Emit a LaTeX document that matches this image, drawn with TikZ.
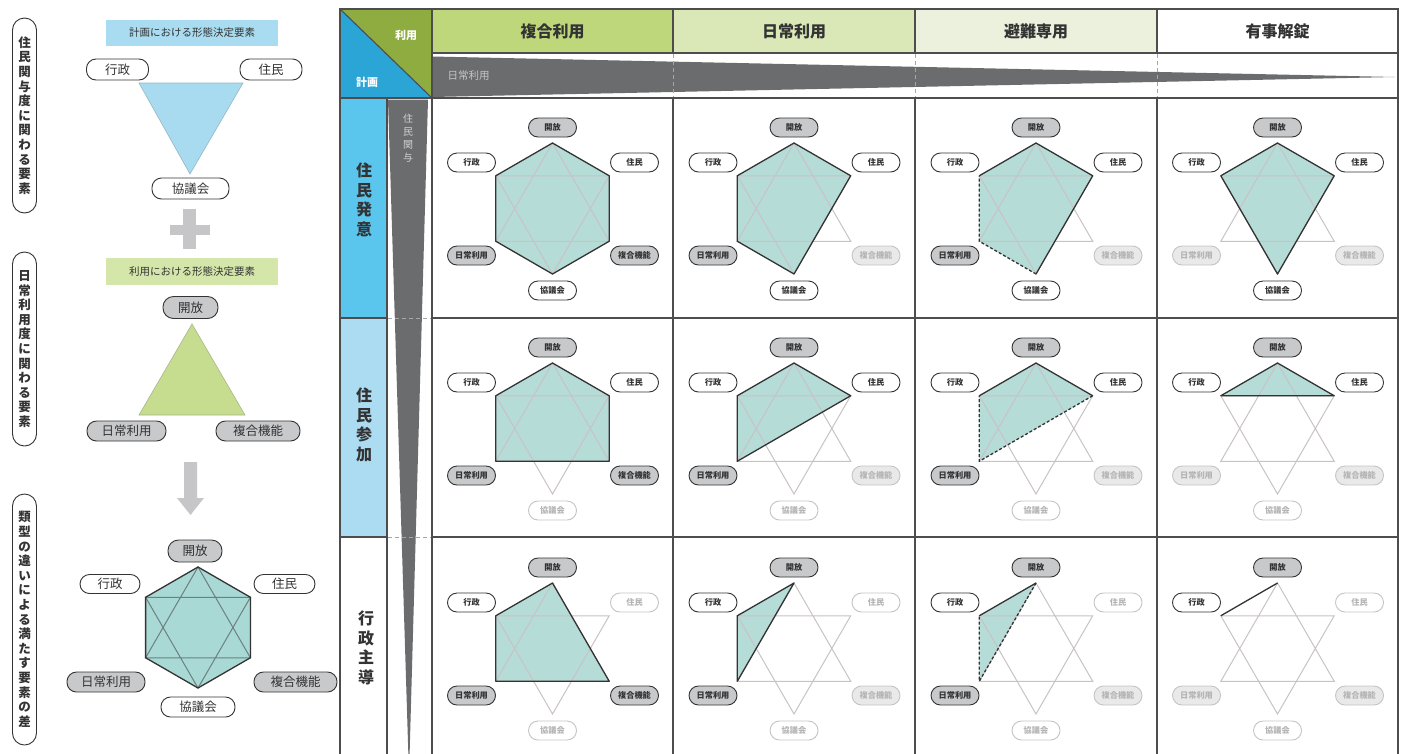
\documentclass[tikz,border=0pt]{standalone}
\usepackage{fontspec}
\setmainfont{Noto Sans CJK JP}
\definecolor{lineC}{HTML}{4D4D4D}
\definecolor{olive}{HTML}{8EAC40}
\definecolor{cblue}{HTML}{2BA4D6}
\definecolor{hA}{HTML}{BED77B}
\definecolor{hB}{HTML}{DAE8B7}
\definecolor{hC}{HTML}{EBF1DD}
\definecolor{rA}{HTML}{5AC6EE}
\definecolor{rB}{HTML}{ACDCF1}
\definecolor{wedgeC}{HTML}{6B6C6E}
\definecolor{tealF}{HTML}{B6DCD7}
\definecolor{tealL}{HTML}{A9D9D4}
\definecolor{pillG}{HTML}{C8C9CB}
\definecolor{pillD}{HTML}{333333}
\definecolor{textD}{HTML}{333333}
\definecolor{inD}{HTML}{C4C4C4}
\definecolor{inF}{HTML}{E9E9EA}
\definecolor{inT}{HTML}{B4B4B4}
\definecolor{starC}{HTML}{C9C2C6}
\definecolor{boxB}{HTML}{A9DCF0}
\definecolor{boxG}{HTML}{D4E6A9}
\definecolor{triB}{HTML}{A8DBEF}
\definecolor{triG}{HTML}{C6DC8F}
\definecolor{plusC}{HTML}{C6C6C8}

\newcommand{\hexpts}[3]{%
  \coordinate (#1C) at (#2,#3);
  \coordinate (#1T) at ([shift={(0,-65.5)}]#1C);
  \coordinate (#1B) at ([shift={(0,65.5)}]#1C);
  \coordinate (#1UL) at ([shift={(-56.7,-32.75)}]#1C);
  \coordinate (#1UR) at ([shift={(56.7,-32.75)}]#1C);
  \coordinate (#1LL) at ([shift={(-56.7,32.75)}]#1C);
  \coordinate (#1LR) at ([shift={(56.7,32.75)}]#1C);
}
\newcommand{\hexstar}[1]{%
  \draw[starline] (#1T) -- (#1LL) -- (#1LR) -- cycle (#1B) -- (#1UL) -- (#1UR) -- cycle;
}
\newcommand{\hexlabels}[7]{%
  \node[#2] (#1-k) at ([shift={(0,-81)}]#1C) {開放};
  \node[#3] (#1-g) at ([shift={(-81,-46)}]#1C) {行政};
  \node[#4] (#1-j) at ([shift={(82,-46)}]#1C) {住民};
  \node[#5] (#1-n) at ([shift={(-81,47)}]#1C) {日常利用};
  \node[#6] (#1-f) at ([shift={(82,47)}]#1C) {複合機能};
  \node[#7] (#1-b) at ([shift={(0,82)}]#1C) {協議会};
}

\begin{document}
\begin{tikzpicture}[x=1pt,y=-1pt,
  grid/.style={draw=lineC,line width=1.1pt},
  dashline/.style={draw=gray!70,line width=0.9pt,dash pattern=on 4pt off 3pt},
  starline/.style={draw=starC,line width=1pt},
  hexfill/.style={fill=tealF},
  outl/.style={draw=pillD,line width=1.3pt,line join=round},
  outd/.style={outl,dash pattern=on 3pt off 2pt},
  cpill/.style={draw, rounded corners=9.5pt, minimum width=48pt, minimum height=19pt, inner sep=0pt, font=\fontsize{8.2}{9}\selectfont\bfseries, line width=0.9pt},
  pw/.style={cpill, draw=pillD, fill=white, text=textD},
  pg/.style={cpill, draw=pillD, fill=pillG, text=textD},
  pwi/.style={cpill, draw=inD, fill=white, text=inT},
  pgi/.style={cpill, draw=inD, fill=inF, text=inT},
  lp/.style={draw=pillD, line width=0.9pt, rounded corners=9.5pt, inner sep=0pt, font=\fontsize{12.5}{14}\selectfont, text=textD},
  lpw/.style={lp, fill=white},
  lpg/.style={lp, fill=pillG},
  vpill/.style={draw=pillD, line width=0.9pt, rounded corners=12pt, minimum width=24pt, inner sep=0pt, align=center, font=\fontsize{12.5}{14.6}\selectfont\bfseries, text=textD},
  hdr/.style={font=\fontsize{16}{18}\selectfont\bfseries, text=textD},
  rowlab/.style={align=center, font=\fontsize{16}{19.5}\selectfont\bfseries, text=textD},
  tbox/.style={minimum width=172pt, inner sep=0pt, font=\fontsize{10.5}{12}\selectfont, text=textD}
]
\clip (0,0) rectangle (1415,753);
\fill[white] (0,0) rectangle (1415,753);

% ---------------- left panel ----------------
\node[vpill, minimum height=195pt] (v1) at (24.5,115.5) {住\\民\\関\\与\\度\\に\\関\\わ\\る\\要\\素};
\node[vpill, minimum height=194pt] (v2) at (24.5,349) {日\\常\\利\\用\\度\\に\\関\\わ\\る\\要\\素};
\node[vpill, minimum height=251pt] (v3) at (24.5,619.5) {類\\型\\の\\違\\い\\に\\よ\\る\\満\\た\\す\\要\\素\\の\\差};

\node[tbox, fill=boxB, minimum height=26pt] (bx1) at (192,32.5) {計画における形態決定要素};
\fill[triB, draw=triB!60!gray, line width=0.6pt] (139,83) -- (243,83) -- (190,174) -- cycle;
\node[lpw, minimum width=62pt, minimum height=21pt] (l1g) at (117.5,69.5) {行政};
\node[lpw, minimum width=62pt, minimum height=21pt] (l1j) at (271,69.5) {住民};
\node[lpw, minimum width=77pt, minimum height=21pt] (l1b) at (190.5,188.5) {協議会};

\fill[plusC] (183,209) rectangle (196,249);
\fill[plusC] (170,225) rectangle (210,235);

\node[tbox, fill=boxG, minimum height=27pt] (bx2) at (192,271.5) {利用における形態決定要素};
\fill[triG, draw=triG!60!gray, line width=0.6pt] (192,324) -- (139,415) -- (245,415) -- cycle;
\node[lpg, minimum width=55pt, minimum height=22pt, rounded corners=10.5pt] (l2k) at (190.5,307.5) {開放};
\node[lpg, minimum width=79pt, minimum height=20pt] (l2n) at (126.5,431) {日常利用};
\node[lpg, minimum width=84pt, minimum height=20pt] (l2f) at (258,431) {複合機能};

\fill[plusC] (184,462) -- (197,462) -- (197,498) -- (204,498) -- (190.5,515) -- (177,498) -- (184,498) -- cycle;

\coordinate (hC) at (198,627.5);
\coordinate (hT) at (198,567);
\coordinate (hB) at (198,688);
\coordinate (hUL) at (145.6,597.25);
\coordinate (hUR) at (250.4,597.25);
\coordinate (hLL) at (145.6,657.75);
\coordinate (hLR) at (250.4,657.75);
\fill[tealL] (hT) -- (hUR) -- (hLR) -- (hB) -- (hLL) -- (hUL) -- cycle;
\draw[draw=gray!85!teal, line width=1pt] (hT) -- (hLL) -- (hLR) -- cycle (hB) -- (hUL) -- (hUR) -- cycle;
\draw[outl] (hT) -- (hUR) -- (hLR) -- (hB) -- (hLL) -- (hUL) -- cycle;
\node[lpg, minimum width=54pt, minimum height=22pt, rounded corners=10.5pt] (l3k) at (195,551) {開放};
\node[lpw, minimum width=60pt, minimum height=19pt] (l3g) at (110,584) {行政};
\node[lpw, minimum width=61pt, minimum height=19pt] (l3j) at (284.5,584) {住民};
\node[lpg, minimum width=78pt, minimum height=20pt] (l3n) at (106,682) {日常利用};
\node[lpg, minimum width=83pt, minimum height=20pt] (l3f) at (295.5,682) {複合機能};
\node[lpw, minimum width=74pt, minimum height=20pt] (l3b) at (198,707) {協議会};

% ---------------- table fills ----------------
\fill[olive] (340,9) -- (432,9) -- (432,98) -- cycle;
\fill[cblue] (340,9) -- (340,98) -- (432,98) -- cycle;
\fill[hA] (432,9) rectangle (673,53);
\fill[hB] (673,9) rectangle (915,53);
\fill[hC] (915,9) rectangle (1157,53);
\fill[rA] (340,98) rectangle (387,318);
\fill[rB] (340,318) rectangle (387,537);
\fill[wedgeC] (432,56.5) -- (1395,77) -- (432,97) -- cycle;
\fill[wedgeC] (388,99.5) -- (428,99.5) -- (409,775) -- cycle;

% ---------------- grid ----------------
\draw[grid] (340,9) rectangle (1398,770);
\draw[grid] (340,9) -- (432,98);
\draw[grid] (432,9) -- (432,770);
\draw[grid] (387,98) -- (387,770);
\draw[grid] (432,53) -- (1398,53);
\draw[grid] (340,98) -- (1398,98);
\foreach \yy in {318,537} {
  \draw[grid] (340,\yy) -- (387,\yy);
  \draw[grid] (432,\yy) -- (1398,\yy);
  \draw[dashline] (388,\yy) -- (431,\yy);
}
\foreach \xx in {673,915,1157} {
  \draw[grid] (\xx,9) -- (\xx,53);
  \draw[dashline] (\xx,54) -- (\xx,97);
  \draw[grid] (\xx,98) -- (\xx,770);
}

% ---------------- headers ----------------
\node[font=\fontsize{11}{12}\selectfont\bfseries, text=white] (cu) at (406,35) {利用};
\node[font=\fontsize{11}{12}\selectfont\bfseries, text=white] (cp) at (367,82) {計画};
\node[hdr] (hd1) at (552.5,31) {複合利用};
\node[hdr] (hd2) at (794,31) {日常利用};
\node[hdr] (hd3) at (1036,31) {避難専用};
\node[hdr] (hd4) at (1277.5,31) {有事解錠};
\node[anchor=west, font=\fontsize{10.5}{12}\selectfont, text=gray!45] (wd) at (444,76) {日常利用};
\node[align=center, font=\fontsize{10}{13}\selectfont, text=gray!35] (vw) at (408,138) {住\\民\\関\\与};
\node[rowlab] (rw1) at (364,200) {住\\民\\発\\意};
\node[rowlab] (rw2) at (364,425) {住\\民\\参\\加};
\node[rowlab] (rw3) at (366,648) {行\\政\\主\\導};

% ---------------- cells ----------------
\hexpts{a1}{552.5}{208.5}
\hexpts{a2}{794}{208.5}
\hexpts{a3}{1036}{208.5}
\hexpts{a4}{1277.5}{208.5}
\hexpts{b1}{552.5}{428.5}
\hexpts{b2}{794}{428.5}
\hexpts{b3}{1036}{428.5}
\hexpts{b4}{1277.5}{428.5}
\hexpts{c1}{552.5}{648.5}
\hexpts{c2}{794}{648.5}
\hexpts{c3}{1036}{648.5}
\hexpts{c4}{1277.5}{648.5}

% fills
\fill[hexfill] (a1T) -- (a1UR) -- (a1LR) -- (a1B) -- (a1LL) -- (a1UL) -- cycle;
\fill[hexfill] (a2T) -- (a2UR) -- (a2B) -- (a2LL) -- (a2UL) -- cycle;
\fill[hexfill] (a3T) -- (a3UR) -- (a3B) -- (a3LL) -- (a3UL) -- cycle;
\fill[hexfill] (a4T) -- (a4UR) -- (a4B) -- (a4UL) -- cycle;
\fill[hexfill] (b1T) -- (b1UR) -- (b1LR) -- (b1LL) -- (b1UL) -- cycle;
\fill[hexfill] (b2T) -- (b2UR) -- (b2LL) -- (b2UL) -- cycle;
\fill[hexfill] (b3T) -- (b3UR) -- (b3LL) -- (b3UL) -- cycle;
\fill[hexfill] (b4T) -- (b4UR) -- (b4UL) -- cycle;
\fill[hexfill] (c1T) -- (c1LR) -- (c1LL) -- (c1UL) -- cycle;
\fill[hexfill] (c2T) -- (c2LL) -- (c2UL) -- cycle;
\fill[hexfill] (c3T) -- (c3LL) -- (c3UL) -- cycle;

% stars
\foreach \n in {a1,a2,a3,a4,b1,b2,b3,b4,c1,c2,c3,c4} { \hexstar{\n} }

% outlines
\draw[outl] (a1T) -- (a1UR) -- (a1LR) -- (a1B) -- (a1LL) -- (a1UL) -- cycle;
\draw[outl] (a2T) -- (a2UR) -- (a2B) -- (a2LL) -- (a2UL) -- cycle;
\draw[outl] (a3UL) -- (a3T) -- (a3UR) -- (a3B);
\draw[outd] (a3B) -- (a3LL) -- (a3UL);
\draw[outl] (a4T) -- (a4UR) -- (a4B) -- (a4UL) -- cycle;
\draw[outl] (b1T) -- (b1UR) -- (b1LR) -- (b1LL) -- (b1UL) -- cycle;
\draw[outl] (b2T) -- (b2UR) -- (b2LL) -- (b2UL) -- cycle;
\draw[outl] (b3UL) -- (b3T) -- (b3UR);
\draw[outd] (b3UR) -- (b3LL) -- (b3UL);
\draw[outl] (b4T) -- (b4UR) -- (b4UL) -- cycle;
\draw[outl] (c1T) -- (c1LR) -- (c1LL) -- (c1UL) -- cycle;
\draw[outl] (c2T) -- (c2LL) -- (c2UL) -- cycle;
\draw[outl] (c3UL) -- (c3T);
\draw[outd] (c3T) -- (c3LL) -- (c3UL);
\draw[outl] (c4UL) -- (c4T);

% labels
\hexlabels{a1}{pg}{pw}{pw}{pg}{pg}{pw}
\hexlabels{a2}{pg}{pw}{pw}{pg}{pgi}{pw}
\hexlabels{a3}{pg}{pw}{pw}{pg}{pgi}{pw}
\hexlabels{a4}{pg}{pw}{pw}{pgi}{pgi}{pw}
\hexlabels{b1}{pg}{pw}{pw}{pg}{pg}{pwi}
\hexlabels{b2}{pg}{pw}{pw}{pg}{pgi}{pwi}
\hexlabels{b3}{pg}{pw}{pw}{pg}{pgi}{pwi}
\hexlabels{b4}{pg}{pw}{pw}{pgi}{pgi}{pwi}
\hexlabels{c1}{pg}{pw}{pwi}{pg}{pg}{pwi}
\hexlabels{c2}{pg}{pw}{pwi}{pg}{pgi}{pwi}
\hexlabels{c3}{pg}{pw}{pwi}{pg}{pgi}{pwi}
\hexlabels{c4}{pg}{pw}{pwi}{pgi}{pgi}{pwi}
\end{tikzpicture}
\end{document}
